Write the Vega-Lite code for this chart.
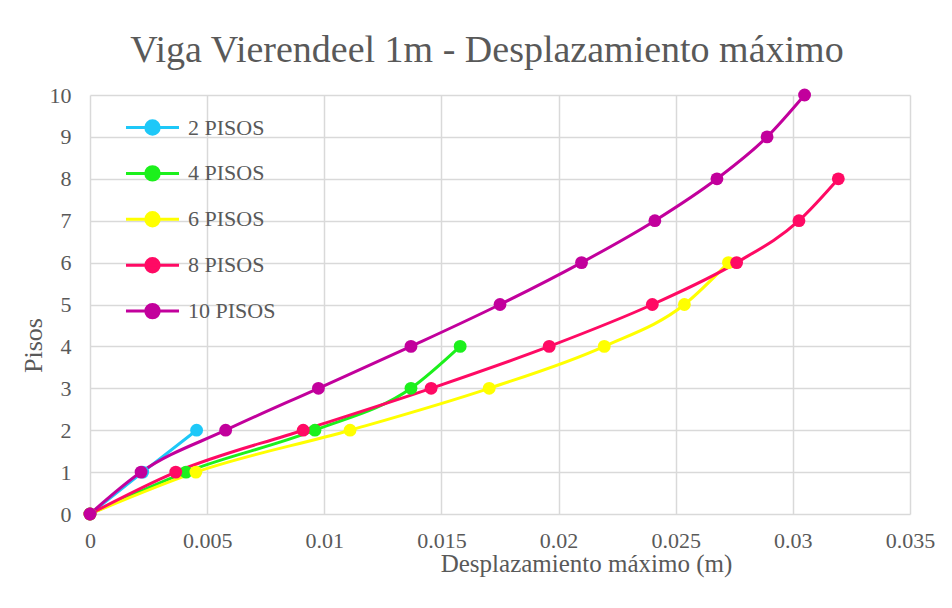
{
  "$schema": "https://vega.github.io/schema/vega-lite/v6.json",
  "width": 820,
  "height": 419,
  "autosize": "none",
  "padding": {"left": 90, "top": 95, "right": 42, "bottom": 94},
  "background": "white",
  "title": {
    "text": "Viga Vierendeel  1m - Desplazamiento máximo",
    "font": "Liberation Serif",
    "fontSize": 38,
    "fontWeight": "normal",
    "color": "#595959",
    "anchor": "middle",
    "dx": -13,
    "offset": 14
  },
  "config": {
    "view": {"stroke": null}
  },
  "data": {
    "values": [
      {"serie": "2 PISOS", "x": 0, "piso": 0},
      {"serie": "2 PISOS", "x": 0.00225, "piso": 1},
      {"serie": "2 PISOS", "x": 0.00455, "piso": 2},
      {"serie": "4 PISOS", "x": 0, "piso": 0},
      {"serie": "4 PISOS", "x": 0.0041, "piso": 1},
      {"serie": "4 PISOS", "x": 0.0096, "piso": 2},
      {"serie": "4 PISOS", "x": 0.0137, "piso": 3},
      {"serie": "4 PISOS", "x": 0.0158, "piso": 4},
      {"serie": "6 PISOS", "x": 0, "piso": 0},
      {"serie": "6 PISOS", "x": 0.00452, "piso": 1},
      {"serie": "6 PISOS", "x": 0.0111, "piso": 2},
      {"serie": "6 PISOS", "x": 0.01704, "piso": 3},
      {"serie": "6 PISOS", "x": 0.02195, "piso": 4},
      {"serie": "6 PISOS", "x": 0.02537, "piso": 5},
      {"serie": "6 PISOS", "x": 0.02725, "piso": 6},
      {"serie": "8 PISOS", "x": 0, "piso": 0},
      {"serie": "8 PISOS", "x": 0.00366, "piso": 1},
      {"serie": "8 PISOS", "x": 0.0091, "piso": 2},
      {"serie": "8 PISOS", "x": 0.01456, "piso": 3},
      {"serie": "8 PISOS", "x": 0.0196, "piso": 4},
      {"serie": "8 PISOS", "x": 0.0240, "piso": 5},
      {"serie": "8 PISOS", "x": 0.0276, "piso": 6},
      {"serie": "8 PISOS", "x": 0.03026, "piso": 7},
      {"serie": "8 PISOS", "x": 0.03194, "piso": 8},
      {"serie": "10 PISOS", "x": 0, "piso": 0},
      {"serie": "10 PISOS", "x": 0.00218, "piso": 1},
      {"serie": "10 PISOS", "x": 0.00579, "piso": 2},
      {"serie": "10 PISOS", "x": 0.00975, "piso": 3},
      {"serie": "10 PISOS", "x": 0.0137, "piso": 4},
      {"serie": "10 PISOS", "x": 0.0175, "piso": 5},
      {"serie": "10 PISOS", "x": 0.02098, "piso": 6},
      {"serie": "10 PISOS", "x": 0.02411, "piso": 7},
      {"serie": "10 PISOS", "x": 0.02676, "piso": 8},
      {"serie": "10 PISOS", "x": 0.0289, "piso": 9},
      {"serie": "10 PISOS", "x": 0.0305, "piso": 10}
    ]
  },
  "mark": {
    "type": "line",
    "strokeWidth": 3,
    "interpolate": "monotone",
    "point": {"filled": true, "size": 165, "opacity": 1}
  },
  "encoding": {
    "x": {
      "field": "x",
      "type": "quantitative",
      "scale": {"domain": [0, 0.035], "nice": false, "zero": true},
      "axis": {
        "title": "Desplazamiento máximo (m)",
        "values": [0, 0.005, 0.01, 0.015, 0.02, 0.025, 0.03, 0.035],
        "labelExpr": "datum.value === 0 ? '0' : format(datum.value, '~g')",
        "labelFlush": false,
        "grid": true,
        "gridColor": "#d9d9d9",
        "gridWidth": 1.5,
        "domain": false,
        "ticks": false,
        "labelFont": "Liberation Serif",
        "labelFontSize": 22,
        "labelColor": "#595959",
        "labelPadding": 16,
        "titleFont": "Liberation Serif",
        "titleFontSize": 25,
        "titleFontWeight": "normal",
        "titleColor": "#595959",
        "titleX": 496,
        "titleY": 57,
        "titleAnchor": "middle",
        "titleBaseline": "alphabetic"
      }
    },
    "y": {
      "field": "piso",
      "type": "quantitative",
      "scale": {"domain": [0, 10], "nice": false},
      "axis": {
        "title": "Pisos",
        "values": [0, 1, 2, 3, 4, 5, 6, 7, 8, 9, 10],
        "grid": true,
        "gridColor": "#d9d9d9",
        "gridWidth": 1.5,
        "domain": false,
        "ticks": false,
        "labelFont": "Liberation Serif",
        "labelFontSize": 22,
        "labelColor": "#595959",
        "labelPadding": 19,
        "titleFont": "Liberation Serif",
        "titleFontSize": 26,
        "titleFontWeight": "normal",
        "titleColor": "#595959",
        "titleX": -49,
        "titleY": 250,
        "titleAngle": -90,
        "titleAnchor": "middle",
        "titleAlign": "center",
        "titleBaseline": "alphabetic"
      }
    },
    "color": {
      "field": "serie",
      "type": "nominal",
      "sort": ["2 PISOS", "4 PISOS", "6 PISOS", "8 PISOS", "10 PISOS"],
      "scale": {
        "domain": ["2 PISOS", "4 PISOS", "6 PISOS", "8 PISOS", "10 PISOS"],
        "range": ["#1ec8f8", "#1cf01c", "#ffff00", "#ff0a64", "#c2009c"]
      },
      "legend": {
        "title": null,
        "orient": "none",
        "legendX": 43,
        "legendY": 13,
        "symbolType": "M-1.5,0H1.5M0.38,0A0.38,0.38,0,1,1,-0.38,0A0.38,0.38,0,1,1,0.38,0Z",
        "symbolSize": 1250,
        "symbolStrokeWidth": 3,
        "rowPadding": 12.9,
        "labelFont": "Liberation Serif",
        "labelFontSize": 22,
        "labelColor": "#595959",
        "labelOffset": 16,
        "encode": {
          "symbols": {
            "update": {
              "fill": {"scale": "color", "field": "value"},
              "stroke": {"scale": "color", "field": "value"},
              "opacity": {"value": 1}
            }
          }
        }
      }
    },
    "order": {"field": "piso", "type": "quantitative"}
  }
}
